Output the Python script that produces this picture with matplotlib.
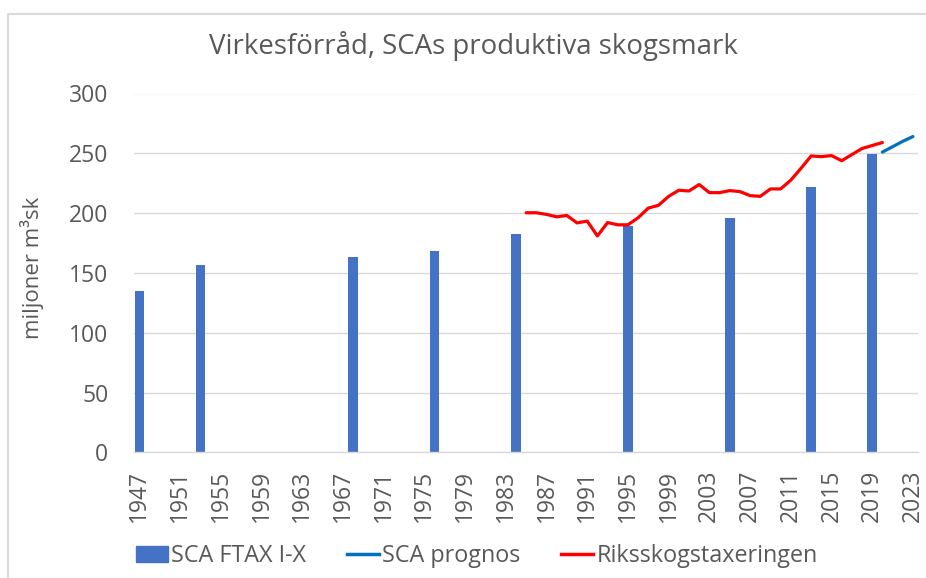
import matplotlib
matplotlib.use("Agg")
import matplotlib.pyplot as plt
from matplotlib.lines import Line2D
import numpy as np

plt.rcParams['font.family'] = ['Open Sans', 'DejaVu Sans']

# categories
years = list(range(1947, 2024))
tick_years = list(range(1947, 2024, 4))

# SCA FTAX I-X (bars)
ftax_years = [1947, 1953, 1968, 1976, 1984, 1995, 2005, 2013, 2019]
ftax_vals = [135, 157, 163, 168, 182.5, 189.5, 196, 221.5, 249.5]

# Riksskogstaxeringen (red line)
rst_years = list(range(1985, 2021))
rst_vals = [200.3, 200.3, 198.9, 196.9, 198, 191.8, 193.3, 180.9, 192.1, 190.2,
            190.2, 196.1, 204.2, 206.5, 214, 219.1, 218.5, 223.9, 217.1, 217.1,
            218.8, 218, 214.6, 214, 220.2, 220.2, 227.5, 237.4, 247.8, 247.2,
            248.1, 243.8, 248.9, 254, 256.5, 259]

# SCA prognos (blue line)
prog_years = [2020, 2021, 2022, 2023]
prog_vals = [251, 255.5, 260, 264]

grey = '#595959'
fig = plt.figure(figsize=(9.26, 5.78), dpi=100)
ax = fig.add_axes([134.3 / 926, 1 - 452.3 / 578, (918 - 134.3) / 926, (452.3 - 93.5) / 578])

ax.bar(ftax_years, ftax_vals, width=0.95, color='#4472C4', label='SCA FTAX I-X', zorder=2)
ax.plot(prog_years, prog_vals, color='#0070C0', lw=2.3, solid_capstyle='round',
        label='SCA prognos', zorder=3)
ax.plot(rst_years, rst_vals, color='#FF0000', lw=2.3, solid_capstyle='round',
        label='Riksskogstaxeringen', zorder=3)

ax.set_xlim(1946.5, 2023.5)
ax.set_ylim(0, 300)
ax.set_yticks(range(0, 301, 50))
ax.set_xticks(tick_years)
ax.set_xticklabels([str(y) for y in tick_years], rotation=90)
ax.grid(axis='y', color='#D9D9D9', lw=1, zorder=0)
ax.set_axisbelow(True)
for s in ['top', 'right', 'left']:
    ax.spines[s].set_visible(False)
ax.spines['bottom'].set_color('#D9D9D9')
ax.spines['bottom'].set_linewidth(1)
ax.tick_params(axis='y', length=0, pad=18.7, labelsize=16.5, labelcolor=grey)
ax.tick_params(axis='x', length=0, pad=12.5, labelsize=16.5, labelcolor=grey)

ax.set_ylabel('miljoner m³sk', fontsize=16, color=grey)
ax.yaxis.set_label_coords(-0.115, 0.514)

fig.text(473.5 / 926, 1 - 54.3 / 578, 'Virkesförråd, SCAs produktiva skogsmark',
         fontsize=19.9, color=grey, ha='center', va='baseline')

handles = [plt.Rectangle((0, 0), 1, 1, color='#4472C4'),
           Line2D([], [], color='#0070C0', lw=2.5),
           Line2D([], [], color='#FF0000', lw=2.5)]
fig.legend(handles, ['SCA FTAX I-X', 'SCA prognos', 'Riksskogstaxeringen'],
           loc='center', bbox_to_anchor=(477 / 926, 1 - 556 / 578), ncol=3,
           frameon=False, fontsize=16.8, labelcolor=grey, handlelength=1.35,
           handletextpad=0.15, columnspacing=1.75, handleheight=0.65)

# chart frame (cropped on right/bottom)
fig.add_artist(Line2D([8 / 926, 8 / 926, 1], [0, 1 - 14 / 578, 1 - 14 / 578],
                      color='#D9D9D9', lw=1.5, transform=fig.transFigure))

fig.savefig('out.png', dpi=100)
